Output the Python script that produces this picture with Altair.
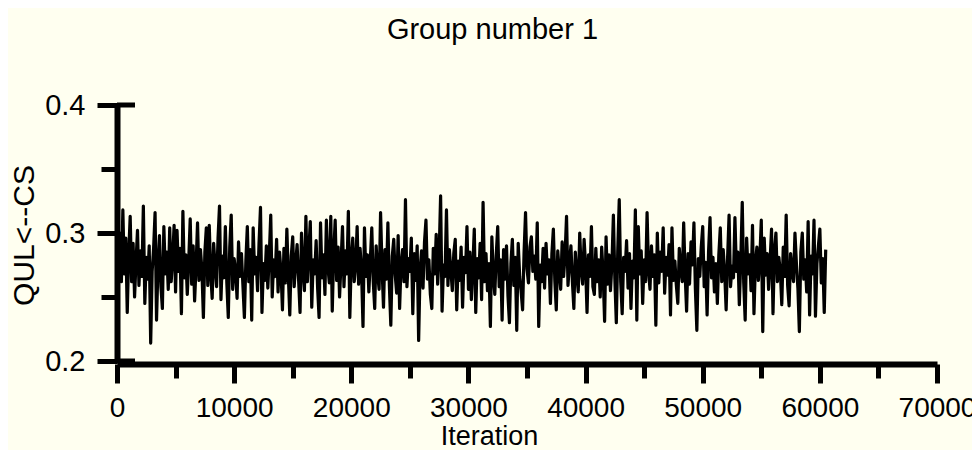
import altair as alt
import pandas as pd

# Trace of the sampled parameter QUL<--CS, one value every 125 iterations (0 .. 60500)
step = 125
qul_cs = [
    0.324, 0.276, 0.300, 0.262, 0.318, 0.268, 0.296, 0.238, 0.284, 0.313,
    0.262, 0.292, 0.250, 0.278, 0.302, 0.259, 0.286, 0.266, 0.321, 0.245,
    0.281, 0.264, 0.290, 0.214, 0.270, 0.288, 0.316, 0.232, 0.275, 0.298,
    0.258, 0.241, 0.305, 0.268, 0.285, 0.256, 0.304, 0.262, 0.280, 0.306,
    0.254, 0.302, 0.270, 0.288, 0.237, 0.317, 0.265, 0.283, 0.252, 0.279,
    0.311, 0.260, 0.290, 0.247, 0.274, 0.308, 0.263, 0.287, 0.271, 0.234,
    0.285, 0.304, 0.259, 0.306, 0.268, 0.249, 0.292, 0.274, 0.258, 0.296,
    0.321, 0.248, 0.282, 0.265, 0.305, 0.261, 0.234, 0.289, 0.314, 0.256,
    0.280, 0.270, 0.249, 0.293, 0.266, 0.284, 0.259, 0.234, 0.278, 0.305,
    0.262, 0.287, 0.232, 0.304, 0.268, 0.281, 0.255, 0.292, 0.320, 0.238,
    0.276, 0.263, 0.290, 0.257, 0.283, 0.314, 0.250, 0.279, 0.266, 0.295,
    0.254, 0.285, 0.270, 0.240, 0.288, 0.261, 0.303, 0.267, 0.236, 0.282,
    0.297, 0.258, 0.276, 0.291, 0.264, 0.238, 0.300, 0.271, 0.255, 0.313,
    0.262, 0.286, 0.309, 0.242, 0.279, 0.268, 0.294, 0.257, 0.234, 0.308,
    0.265, 0.283, 0.252, 0.310, 0.274, 0.261, 0.313, 0.239, 0.284, 0.310,
    0.263, 0.289, 0.250, 0.277, 0.305, 0.258, 0.286, 0.268, 0.317, 0.234,
    0.280, 0.296, 0.262, 0.275, 0.305, 0.260, 0.288, 0.271, 0.227, 0.304,
    0.266, 0.283, 0.254, 0.279, 0.304, 0.262, 0.241, 0.290, 0.268, 0.256,
    0.316, 0.273, 0.242, 0.287, 0.264, 0.308, 0.259, 0.228, 0.282, 0.295,
    0.267, 0.253, 0.298, 0.241, 0.276, 0.287, 0.262, 0.326, 0.258, 0.280,
    0.270, 0.296, 0.237, 0.284, 0.263, 0.290, 0.216, 0.272, 0.286, 0.257,
    0.293, 0.310, 0.264, 0.279, 0.252, 0.241, 0.288, 0.268, 0.299, 0.260,
    0.283, 0.329, 0.239, 0.275, 0.266, 0.318, 0.259, 0.287, 0.271, 0.255,
    0.284, 0.295, 0.240, 0.278, 0.263, 0.289, 0.242, 0.281, 0.269, 0.305,
    0.256, 0.285, 0.248, 0.274, 0.303, 0.238, 0.280, 0.265, 0.292, 0.248,
    0.324, 0.262, 0.284, 0.255, 0.276, 0.227, 0.297, 0.268, 0.252, 0.283,
    0.305, 0.258, 0.279, 0.232, 0.287, 0.264, 0.290, 0.251, 0.230, 0.276,
    0.295, 0.259, 0.281, 0.224, 0.292, 0.266, 0.254, 0.240, 0.285, 0.316,
    0.272, 0.261, 0.289, 0.297, 0.270, 0.282, 0.264, 0.308, 0.227, 0.275,
    0.262, 0.288, 0.257, 0.292, 0.268, 0.279, 0.245, 0.284, 0.303, 0.263,
    0.240, 0.286, 0.271, 0.256, 0.293, 0.266, 0.283, 0.313, 0.259, 0.277,
    0.290, 0.262, 0.241, 0.285, 0.268, 0.254, 0.300, 0.271, 0.260, 0.295,
    0.275, 0.238, 0.283, 0.266, 0.305, 0.258, 0.252, 0.288, 0.262, 0.279,
    0.250, 0.289, 0.268, 0.231, 0.297, 0.260, 0.283, 0.255, 0.276, 0.314,
    0.264, 0.230, 0.287, 0.326, 0.262, 0.237, 0.281, 0.270, 0.294, 0.257,
    0.284, 0.241, 0.278, 0.265, 0.318, 0.232, 0.305, 0.268, 0.286, 0.245,
    0.279, 0.262, 0.316, 0.271, 0.256, 0.290, 0.266, 0.283, 0.228, 0.300,
    0.261, 0.285, 0.270, 0.304, 0.253, 0.281, 0.267, 0.291, 0.236, 0.304,
    0.263, 0.278, 0.259, 0.245, 0.288, 0.272, 0.262, 0.308, 0.268, 0.239,
    0.284, 0.260, 0.293, 0.275, 0.308, 0.256, 0.224, 0.280, 0.266, 0.289,
    0.305, 0.258, 0.277, 0.236, 0.286, 0.312, 0.265, 0.281, 0.254, 0.276,
    0.245, 0.283, 0.304, 0.262, 0.287, 0.269, 0.240, 0.281, 0.314, 0.258,
    0.274, 0.265, 0.312, 0.270, 0.285, 0.244, 0.279, 0.324, 0.261, 0.232,
    0.296, 0.268, 0.283, 0.255, 0.306, 0.237, 0.277, 0.289, 0.263, 0.280,
    0.310, 0.223, 0.296, 0.267, 0.284, 0.256, 0.278, 0.303, 0.237, 0.286,
    0.300, 0.262, 0.281, 0.270, 0.244, 0.289, 0.266, 0.314, 0.259, 0.243,
    0.284, 0.271, 0.262, 0.300, 0.276, 0.257, 0.223, 0.285, 0.300, 0.264,
    0.279, 0.254, 0.309, 0.236, 0.282, 0.268, 0.310, 0.235, 0.276, 0.290,
    0.303, 0.261, 0.280, 0.238, 0.287,
]
iterations = [i * step for i in range(len(qul_cs))]

x_tick_values = [0, 5000, 10000, 15000, 20000, 25000, 30000, 35000,
                 40000, 45000, 50000, 55000, 60000, 65000, 70000]
y_tick_values = [0.2, 0.25, 0.3, 0.35, 0.4]
y_end_caps = [0.2, 0.4]

trace = pd.DataFrame({"iteration": iterations, "qul": qul_cs})
caps = pd.DataFrame({"qul": y_end_caps})

FONT = "Liberation Sans"

x_axis = alt.Axis(
    values=x_tick_values,
    format="d",
    labelExpr="datum.value % 10000 == 0 ? datum.label : ''",
    tickSize={"condition": {"test": "datum.value % 10000 == 0", "value": 19}, "value": 14},
    labelFlush=False,
    labelOverlap=False,
    labelPadding=11,
    labelFontSize=28,
    offset=3,
    title="Iteration",
    titleX=372,
    titleY=80,
    titleFontSize=27,
    titleBaseline="alphabetic",
    titleAlign="center",
)

y_axis = alt.Axis(
    values=y_tick_values,
    format=".1f",
    labelExpr="round(datum.value * 100) % 10 == 0 ? datum.label : ''",
    tickSize={"condition": {"test": "round(datum.value * 100) % 10 == 0", "value": 20}, "value": 16},
    labelFlush=False,
    labelOverlap=False,
    labelPadding=12,
    labelFontSize=29,
    title="QUL<--CS",
    titleAngle=270,
    titleX=-84,
    titleY=130,
    titleFontSize=30,
    titleAlign="center",
    titleBaseline="alphabetic",
)

x_scale = alt.Scale(domain=[0, 70000], nice=False, zero=False)
y_scale = alt.Scale(domain=[0.2, 0.4], nice=False, zero=False)

line = alt.Chart(trace).mark_line(color="black", strokeWidth=3.2, strokeJoin="round").encode(
    x=alt.X("iteration:Q", scale=x_scale, axis=x_axis),
    y=alt.Y("qul:Q", scale=y_scale, axis=y_axis),
)

cap_rules = alt.Chart(caps).mark_rule(color="black", strokeWidth=5).encode(
    y=alt.Y("qul:Q", scale=y_scale),
    x=alt.value(0),
    x2=alt.value(18),
)

chart = (
    alt.layer(line, cap_rules)
    .properties(
        width=820,
        height=256,
        autosize=alt.AutoSizeParams(type="none"),
        padding={"left": 109, "top": 97, "right": 35, "bottom": 89},
        background="#FFFFF0",
        title=alt.TitleParams(
            "Group number 1",
            font=FONT,
            fontSize=29,
            fontWeight="normal",
            color="black",
            anchor="middle",
            frame="bounds",
            offset=46,
        ),
    )
    .configure_view(strokeWidth=0)
    .configure_axis(
        grid=False,
        domainColor="black",
        domainWidth=6,
        tickColor="black",
        tickWidth=5,
        labelFont=FONT,
        labelColor="black",
        titleFont=FONT,
        titleFontWeight="normal",
        titleColor="black",
    )
)

chart.save("out.html", embed_options={"renderer": "svg", "actions": False})
